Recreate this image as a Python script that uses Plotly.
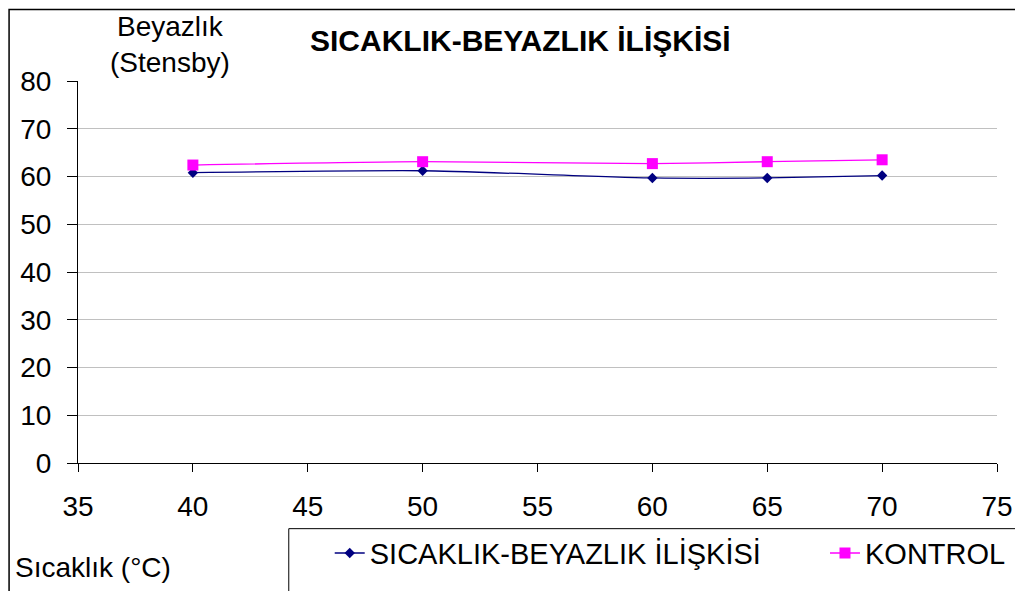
import plotly.graph_objects as go

temps = [40, 50, 60, 65, 70]
beyazlik = [60.8, 61.2, 59.7, 59.7, 60.2]
kontrol = [62.4, 63.1, 62.7, 63.1, 63.5]

x_ticks = [35, 40, 45, 50, 55, 60, 65, 70, 75]
y_ticks = [0, 10, 20, 30, 40, 50, 60, 70, 80]

FONT = "Liberation Sans, Arial, sans-serif"

# the page has an 8px body margin, so the figure sits at (8, 8)
# plot area on screen: x 78..998, y 81..465
PX0, PW, PY0, PH = 78, 920, 465, 384


def px(x):
    return (x - PX0) / PW


def py(y):
    return (PY0 - y) / PH


fig = go.Figure()
fig.add_trace(go.Scatter(
    x=temps, y=beyazlik,
    mode="lines+markers",
    line=dict(color="#000080", width=1.3, shape="spline", smoothing=0.6),
    marker=dict(symbol="diamond", size=8, color="#000080"),
    name="SICAKLIK-BEYAZLIK İLİŞKİSİ",
    legend="legend",
))
fig.add_trace(go.Scatter(
    x=temps, y=kontrol,
    mode="lines+markers",
    line=dict(color="#FF00FF", width=1.3, shape="spline", smoothing=0.6),
    marker=dict(symbol="square", size=11, color="#FF00FF"),
    name="KONTROL",
    legend="legend2",
))

# outer frame and legend box
fig.add_shape(type="rect", xref="paper", yref="paper",
              x0=px(9), x1=px(1017), y0=py(640), y1=py(9),
              line=dict(color="black", width=1.5), layer="below")
fig.add_shape(type="rect", xref="paper", yref="paper",
              x0=px(289), x1=px(1019), y0=py(640), y1=py(531),
              line=dict(color="black", width=1), layer="below")

fig.add_annotation(text="<b>SICAKLIK-BEYAZLIK İLİŞKİSİ</b>", xref="paper", yref="paper",
                   x=px(521), y=py(40), showarrow=False,
                   font=dict(size=30, family=FONT, color="black"),
                   xanchor="center", yanchor="middle")
fig.add_annotation(text="Beyazlık<br>(Stensby)", xref="paper", yref="paper",
                   x=px(170), y=py(44), showarrow=False,
                   font=dict(size=28, family=FONT, color="black"),
                   xanchor="center", yanchor="middle")
fig.add_annotation(text="Sıcaklık (°C)", xref="paper", yref="paper",
                   x=px(13), y=py(570), showarrow=False,
                   font=dict(size=28, family=FONT, color="black"),
                   xanchor="left", yanchor="middle")

# legend kept high enough that it does not push the bottom margin
legend_style = dict(orientation="h", yanchor="top", y=py(530),
                    font=dict(size=29, family=FONT, color="black"),
                    bgcolor="rgba(0,0,0,0)")

fig.update_layout(
    width=1015, height=583,
    margin=dict(l=70, r=25, t=73, b=126),
    paper_bgcolor="white",
    plot_bgcolor="white",
    font=dict(family=FONT, size=28, color="black"),
    showlegend=True,
    legend=dict(legend_style, x=px(330), xanchor="left"),
    legend2=dict(legend_style, x=px(1012), xanchor="right"),
    xaxis=dict(range=[35, 75], tickvals=x_ticks, showgrid=False, zeroline=False,
               showline=True, linecolor="black", linewidth=1, automargin=False,
               ticks="outside", ticklen=8, tickcolor="black", ticklabelstandoff=10),
    yaxis=dict(range=[0, 80], tickvals=y_ticks, showgrid=True, gridcolor="#C0C0C0",
               zeroline=False, showline=True, linecolor="black", linewidth=1, automargin=False,
               ticks="outside", ticklen=10, tickcolor="black", ticklabelstandoff=10),
)

fig.write_html("out.html")
